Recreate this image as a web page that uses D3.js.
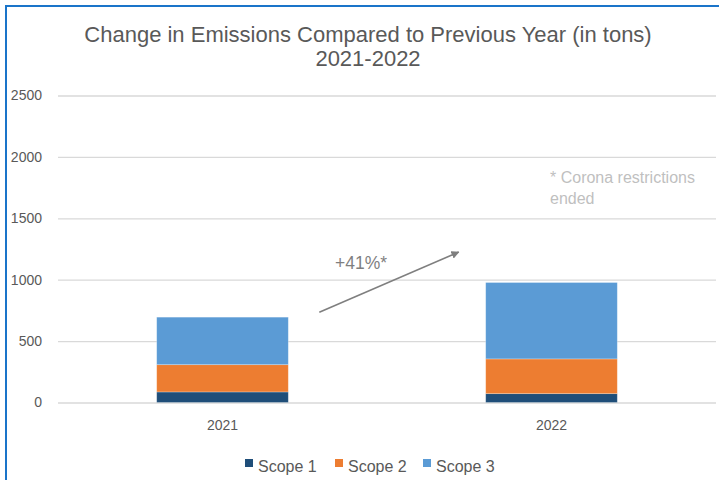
<!DOCTYPE html>
<html>
<head>
<meta charset="utf-8">
<script src="https://cdn.jsdelivr.net/npm/d3@7"></script>
<style>
  html, body { margin: 0; padding: 0; background: #fff; }
  svg { display: block; font-family: "Liberation Sans", Arial, sans-serif; }
</style>
</head>
<body>
<svg id="chart" width="719" height="480"></svg>
<script>
// Data
const years = ['2021', '2022'];
const scopeNames = ['Scope 1', 'Scope 2', 'Scope 3'];
const scope1 = [86, 72];
const scope2 = [222, 283];
const scope3 = [387, 622];
const yTicks = [0, 500, 1000, 1500, 2000, 2500];
const scopeColors = ['#1f4e79', '#ed7d31', '#5b9bd5'];

const W = 719, H = 480;
const margin = { top: 95.5, right: 3, bottom: 77.5, left: 58 };

const svg = d3.select('#chart');

// blue selection frame on the left and top
svg.append('path')
  .attr('d', `M6,${H} L6,6 L${W},6`)
  .attr('fill', 'none')
  .attr('stroke', '#1a74c9')
  .attr('stroke-width', 2);

const x = d3.scaleBand()
  .domain(years)
  .range([margin.left, W - margin.right])
  .paddingInner(0.6)
  .paddingOuter(0.3);

const y = d3.scaleLinear()
  .domain([0, 2500])
  .range([H - margin.bottom, margin.top]);

// gridlines + y labels
const yAxis = d3.axisLeft(y)
  .tickValues(yTicks)
  .tickFormat(d3.format('d'))
  .tickSize(-(W - margin.right - margin.left))
  .tickPadding(16);
const gy = svg.append('g').attr('transform', `translate(${margin.left},0)`).call(yAxis);
gy.select('.domain').remove();
gy.selectAll('.tick line').attr('stroke', '#d9d9d9').attr('stroke-width', 1.3);
gy.selectAll('.tick text')
  .attr('fill', '#595959')
  .style('font-size', '14px')
  .style('font-family', '"Liberation Sans", Arial, sans-serif');

// stacked bars
const rows = years.map((yr, i) => ({ year: yr, 'Scope 1': scope1[i], 'Scope 2': scope2[i], 'Scope 3': scope3[i] }));
const stacked = d3.stack().keys(scopeNames)(rows);

svg.append('g').selectAll('g')
  .data(stacked)
  .join('g')
  .attr('fill', (d, i) => scopeColors[i])
  .selectAll('rect')
  .data(d => d)
  .join('rect')
  .attr('x', d => x(d.data.year))
  .attr('width', x.bandwidth())
  .attr('y', d => y(d[1]))
  .attr('height', d => y(d[0]) - y(d[1]))
  .attr('stroke', '#ffffff')
  .attr('stroke-opacity', 0.35)
  .attr('stroke-width', 0.75);

// x labels
const xAxis = d3.axisBottom(x).tickSize(0).tickPadding(18);
const gx = svg.append('g').attr('transform', `translate(0,${y(0)})`).call(xAxis);
gx.select('.domain').remove();
gx.selectAll('.tick text')
  .attr('fill', '#595959')
  .style('font-size', '14px')
  .style('font-family', '"Liberation Sans", Arial, sans-serif');

// title
const title = svg.append('text')
  .attr('text-anchor', 'middle')
  .attr('fill', '#595959')
  .style('font-size', '22px');
title.append('tspan').attr('x', 368).attr('y', 42).text('Change in Emissions Compared to Previous Year (in tons)');
title.append('tspan').attr('x', 368).attr('y', 66).text('2021-2022');

// growth arrow annotation
const defs = svg.append('defs');
defs.append('marker')
  .attr('id', 'arrowhead')
  .attr('viewBox', '0 -5 10 10')
  .attr('refX', 9)
  .attr('refY', 0)
  .attr('markerWidth', 8)
  .attr('markerHeight', 8)
  .attr('markerUnits', 'userSpaceOnUse')
  .attr('orient', 'auto')
  .append('path')
  .attr('d', 'M0,-5L10,0L0,5Z')
  .attr('fill', '#7f7f7f');

const x0 = x('2021') + x.bandwidth() + 31;
const x1 = x('2022') - 27;
svg.append('line')
  .attr('x1', x0).attr('y1', y(735))
  .attr('x2', x1).attr('y2', y(1225))
  .attr('stroke', '#7f7f7f')
  .attr('stroke-width', 1.6)
  .attr('marker-end', 'url(#arrowhead)');

const totals = years.map((yr, i) => scope1[i] + scope2[i] + scope3[i]);
const pct = Math.round((totals[1] / totals[0] - 1) * 100);
svg.append('text')
  .attr('x', 335).attr('y', 269)
  .attr('fill', '#7f7f7f')
  .style('font-size', '17.5px')
  .text(`+${pct}%*`);

const note = svg.append('text')
  .attr('fill', '#bfbfbf')
  .style('font-size', '16px');
note.append('tspan').attr('x', 550).attr('y', 183).text('* Corona restrictions');
note.append('tspan').attr('x', 550).attr('y', 204).text('ended');

// legend
const legendX = [245, 335, 423];
const lg = svg.append('g').selectAll('g')
  .data(scopeNames)
  .join('g')
  .attr('transform', (d, i) => `translate(${legendX[i]},459)`);
lg.append('rect').attr('width', 8).attr('height', 8).attr('fill', (d, i) => scopeColors[i]);
lg.append('text')
  .attr('x', 13).attr('y', 12.5)
  .attr('fill', '#595959')
  .style('font-size', '16px')
  .text(d => d);
</script>
</body>
</html>
